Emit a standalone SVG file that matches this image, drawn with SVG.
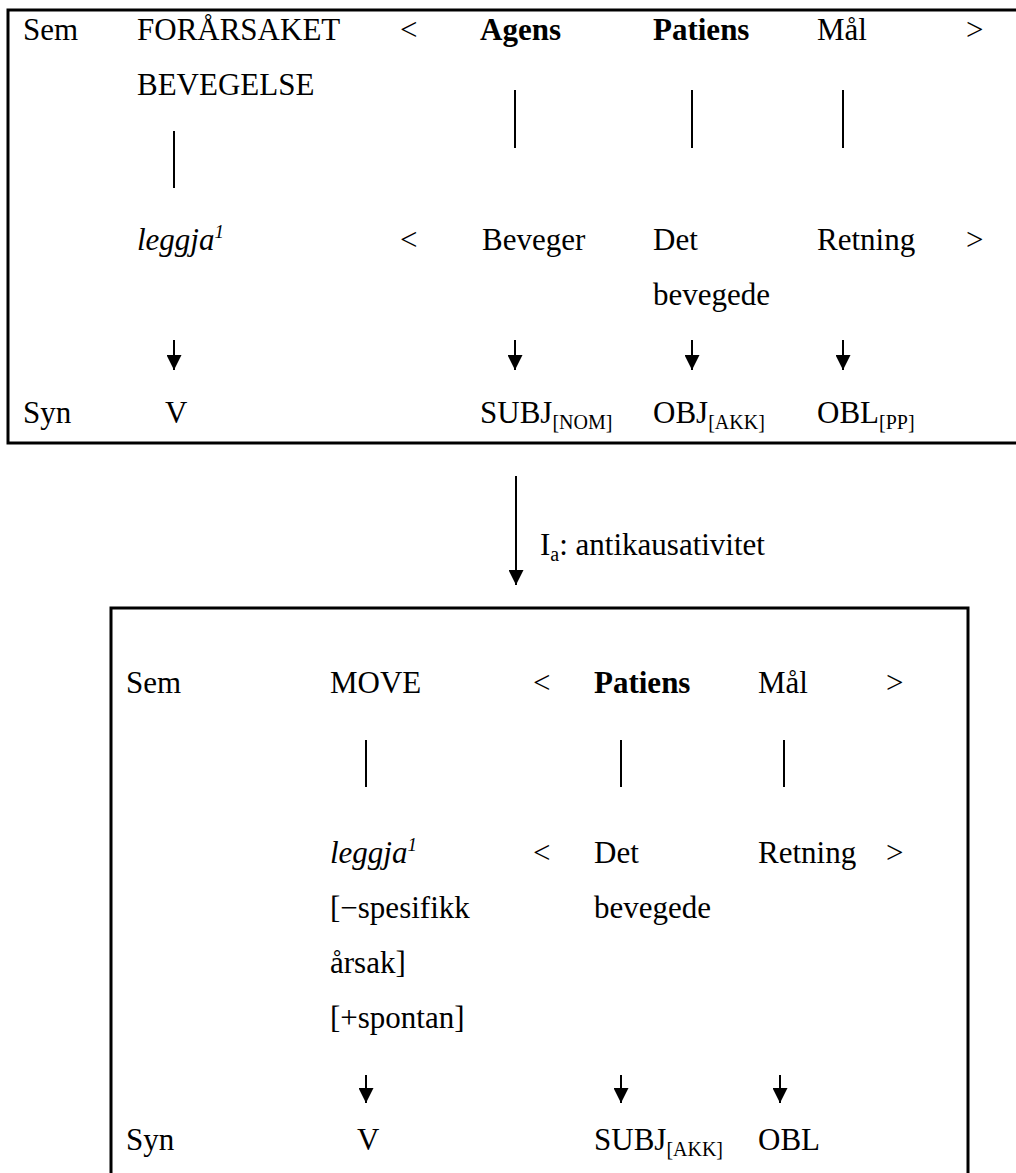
<svg xmlns="http://www.w3.org/2000/svg" width="1016" height="1173" viewBox="0 0 1016 1173" font-family="'Liberation Serif', 'DejaVu Serif', 'Times New Roman', serif">
<style>
text{font-family:"Liberation Serif","DejaVu Serif","Times New Roman",serif;font-size:31px;fill:#000}
.b{font-weight:bold}
.i{font-style:italic}
.sub{font-size:20px}
.sup{font-size:19px;font-style:italic}
.box{fill:none;stroke:#000;stroke-width:3}
.ln{stroke:#000;stroke-width:2;fill:none}
</style>
<defs>
<marker id="ahb" viewBox="0 0 10 10" refX="10" refY="5" markerWidth="15" markerHeight="15" markerUnits="userSpaceOnUse" orient="auto"><path d="M0,0 L10,5 L0,10 Z" fill="#000"/></marker>
</defs>

<g id="top-box">
<rect class="box" x="8" y="10" width="1020" height="433"/>
<text x="23" y="40">Sem</text>
<text x="137" y="40">FORÅRSAKET</text>
<text x="137" y="95">BEVEGELSE</text>
<text x="400" y="40">&lt;</text>
<text class="b" x="480" y="40">Agens</text>
<text class="b" x="653" y="40">Patiens</text>
<text x="817" y="40">Mål</text>
<text x="966" y="40">&gt;</text>
<text x="137" y="250"><tspan class="i">leggja</tspan><tspan class="sup" dy="-12">1</tspan></text>
<text x="400" y="250">&lt;</text>
<text x="482" y="250">Beveger</text>
<text x="653" y="250">Det</text>
<text x="653" y="305">bevegede</text>
<text x="817" y="250">Retning</text>
<text x="966" y="250">&gt;</text>
<text x="23" y="423">Syn</text>
<text x="165" y="423">V</text>
<text x="480" y="423">SUBJ<tspan class="sub" dy="6">[NOM]</tspan></text>
<text x="653" y="423">OBJ<tspan class="sub" dy="6">[AKK]</tspan></text>
<text x="817" y="423">OBL<tspan class="sub" dy="6">[PP]</tspan></text>
</g>

<g id="bottom-box">
<rect class="box" x="111" y="608" width="857" height="600"/>
<text x="126" y="693">Sem</text>
<text x="330" y="693">MOVE</text>
<text x="533" y="693">&lt;</text>
<text class="b" x="594" y="693">Patiens</text>
<text x="758" y="693">Mål</text>
<text x="886" y="693">&gt;</text>
<text x="330" y="863"><tspan class="i">leggja</tspan><tspan class="sup" dy="-12">1</tspan></text>
<text x="533" y="863">&lt;</text>
<text x="594" y="863">Det</text>
<text x="594" y="918">bevegede</text>
<text x="758" y="863">Retning</text>
<text x="886" y="863">&gt;</text>
<text x="330" y="918">[−spesifikk</text>
<text x="330" y="973">årsak]</text>
<text x="330" y="1028">[+spontan]</text>
<text x="126" y="1150">Syn</text>
<text x="357" y="1150">V</text>
<text x="594" y="1150">SUBJ<tspan class="sub" dy="6">[AKK]</tspan></text>
<text x="758" y="1150">OBL</text>
</g>

<g id="label">
<text x="540" y="555">I<tspan class="sub" dy="6">a</tspan><tspan dy="-6">: antikausativitet</tspan></text>
</g>

<g id="connectors">
<line class="ln" x1="174" y1="131" x2="174" y2="188"/>
<line class="ln" x1="515" y1="90" x2="515" y2="148"/>
<line class="ln" x1="692" y1="90" x2="692" y2="148"/>
<line class="ln" x1="843" y1="90" x2="843" y2="148"/>
<line class="ln" x1="174" y1="340" x2="174" y2="370" marker-end="url(#ahb)"/>
<line class="ln" x1="515" y1="340" x2="515" y2="370" marker-end="url(#ahb)"/>
<line class="ln" x1="692" y1="340" x2="692" y2="370" marker-end="url(#ahb)"/>
<line class="ln" x1="843" y1="340" x2="843" y2="370" marker-end="url(#ahb)"/>
<line class="ln" x1="516" y1="476" x2="516" y2="585" marker-end="url(#ahb)"/>
<line class="ln" x1="366" y1="740" x2="366" y2="787"/>
<line class="ln" x1="621" y1="740" x2="621" y2="787"/>
<line class="ln" x1="784" y1="740" x2="784" y2="787"/>
<line class="ln" x1="366" y1="1075" x2="366" y2="1103" marker-end="url(#ahb)"/>
<line class="ln" x1="621" y1="1075" x2="621" y2="1103" marker-end="url(#ahb)"/>
<line class="ln" x1="780" y1="1075" x2="780" y2="1103" marker-end="url(#ahb)"/>
</g>
</svg>
